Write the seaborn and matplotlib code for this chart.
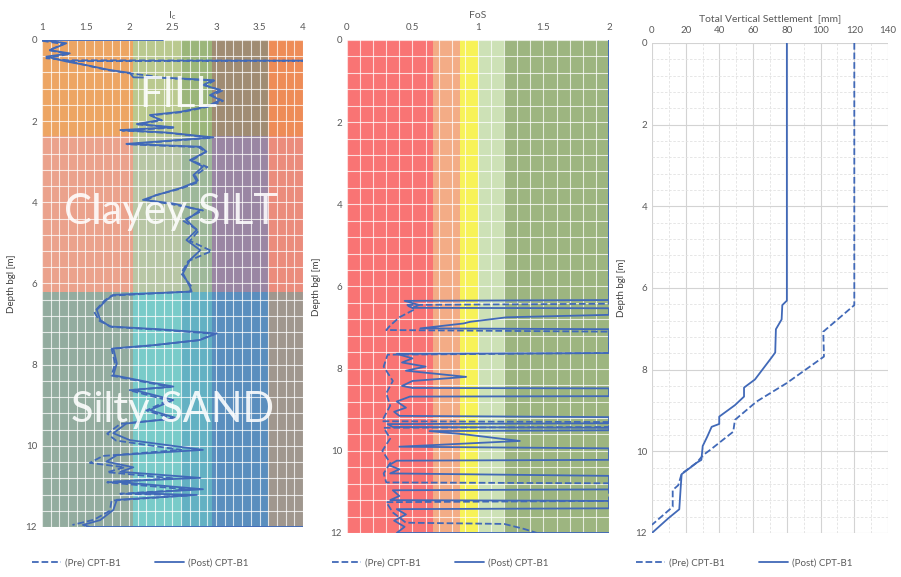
#---------------------------- pacotes ------------------------------------
import matplotlib
matplotlib.use('Agg')
import matplotlib.pyplot as plt
import seaborn as sns
from matplotlib.ticker import MultipleLocator, FormatStrFormatter
from matplotlib.lines import Line2D

sns.set_style('white')
plt.rcParams['font.family'] = ['Lato', 'DejaVu Sans']

#---------------------------- dados: Ic -----------------------------------
ic_prof_post = [0, 0, 0.08, 0.25, 0.33, 0.41, 0.53, 0.62, 0.74, 0.81, 0.92, 0.94, 0.99, 1.11, 1.23,
                1.36, 1.48, 1.64, 1.77, 1.85, 1.97, 2.07, 2.15, 2.22, 2.28, 2.40, 2.56, 2.63, 2.75,
                2.96, 3.12, 3.33, 3.49, 3.65, 3.82, 3.94, 4.03, 4.19, 4.44, 4.68, 4.93, 5.18, 5.42,
                5.75, 6.08, 6.20, 6.28, 6.41, 6.65, 6.90, 7.06, 7.13, 7.23, 7.39, 7.52, 7.60, 7.97,
                8.26, 8.42, 8.54, 8.62, 8.87, 9.12, 9.32, 9.45, 9.69, 9.86, 10.10, 10.23, 10.39,
                10.53, 10.64, 10.79, 10.88, 11.07, 11.17, 11.21, 11.33, 11.58, 11.83, 11.95, 12.0, 12.0]
ic_post = [2.39, 1.01, 1.28, 1.09, 1.32, 1.05, 1.28, 1.51, 1.78, 2.01, 2.05, 2.51, 2.97, 2.85, 3.05,
           2.93, 3.05, 2.89, 2.59, 2.24, 2.36, 2.09, 2.51, 1.90, 2.43, 2.97, 1.97, 2.82, 2.89,
           2.70, 2.85, 2.74, 2.78, 2.59, 2.32, 2.16, 2.51, 2.82, 2.66, 2.78, 2.66, 2.82, 2.70,
           2.62, 2.70, 2.72, 1.82, 1.74, 1.63, 1.67, 1.78, 2.36, 3.01, 2.82, 2.28, 1.82, 1.86,
           1.82, 2.20, 2.51, 2.05, 2.51, 2.24, 2.55, 1.97, 1.82, 2.01, 2.85, 1.86, 1.74,
           2.05, 1.90, 2.82, 1.82, 2.85, 2.05, 2.78, 1.86, 1.82, 1.67, 1.47, 1.55, 4.0]

ic_prof_pre = [0.02, 0.10, 0.25, 0.35, 0.45, 0.50, 0.51, 0.52, 0.62, 0.74, 0.82, 0.95, 1.00, 1.12, 1.25,
               1.37, 1.50, 1.65, 1.78, 1.86, 1.98, 2.08, 2.16, 2.23, 2.29, 2.41, 2.57, 2.64, 2.76,
               2.97, 3.13, 3.34, 3.50, 3.66, 3.83, 3.95, 4.05, 4.20, 4.45, 4.70, 4.95, 5.20, 5.45,
               5.75, 6.08, 6.20, 6.30, 6.42, 6.70, 6.92, 7.07, 7.14, 7.24, 7.40, 7.53, 7.61, 7.97,
               8.27, 8.43, 8.55, 8.63, 8.88, 9.13, 9.33, 9.46, 9.70, 9.87, 10.10, 10.25, 10.42,
               10.53, 10.65, 10.80, 10.90, 11.08, 11.18, 11.22, 11.35, 11.60, 11.82, 11.95]
ic_pre = [1.00, 1.25, 1.08, 1.30, 1.05, 1.30, 4.00, 1.30, 1.50, 1.75, 2.00, 2.50, 2.98, 2.88, 3.07,
          2.95, 3.08, 2.90, 2.60, 2.25, 2.38, 2.10, 2.52, 1.92, 2.45, 2.95, 1.98, 2.80, 2.88,
          2.72, 2.90, 2.76, 2.80, 2.60, 2.30, 2.20, 2.50, 2.85, 2.62, 2.80, 2.70, 2.95, 2.68,
          2.60, 2.72, 2.70, 1.80, 1.72, 1.60, 1.66, 1.80, 2.35, 2.98, 2.80, 2.25, 1.80, 1.84,
          1.80, 2.18, 2.48, 2.00, 2.45, 2.20, 2.50, 1.90, 1.75, 1.85, 2.60, 1.70, 1.55,
          1.95, 1.75, 2.50, 1.75, 2.70, 1.90, 2.70, 1.80, 1.78, 1.60, 1.35]

#---------------------------- dados: FoS ----------------------------------
fos_prof_post = [0, 6.33, 6.35, 6.45, 6.52, 6.53, 6.69, 6.75, 6.86, 6.90, 7.02, 7.04, 7.62, 7.64, 7.75,
                 7.85, 7.95, 8.05, 8.20, 8.30, 8.42, 8.47, 8.48, 8.67, 8.68, 8.80, 8.95, 9.05, 9.15,
                 9.18, 9.33, 9.35, 9.42, 9.44, 9.50, 9.52, 9.60, 9.76, 9.90, 9.94, 10.22, 10.24,
                 10.35, 10.45, 10.55, 10.61, 10.94, 10.96, 11.10, 11.20, 11.22, 11.40, 11.42,
                 11.55, 11.70, 11.85, 12.0, 12.0]
fos_post = [2, 2, 0.44, 0.55, 0.50, 2, 2, 1.22, 0.94, 0.89, 0.56, 2, 2, 0.38, 0.50,
            0.42, 0.60, 0.45, 0.91, 0.50, 0.42, 0.50, 2, 2, 0.48, 0.38, 0.45, 0.36, 0.40,
            2, 2, 0.31, 0.35, 2, 2, 0.63, 0.90, 1.32, 0.40, 2, 2, 0.38,
            0.32, 0.40, 0.33, 2, 2, 0.35, 0.40, 0.33, 2, 2, 0.38,
            0.45, 0.36, 0.44, 0.38, 2]

fos_prof_pre = [0, 6.42, 6.45, 6.55, 6.75, 6.95, 7.06, 7.10, 7.62, 7.66, 7.95, 8.30, 8.60, 8.90,
                9.20, 9.28, 9.30, 9.42, 9.44, 9.70, 10.0, 10.30, 10.55, 10.77, 10.79, 11.22,
                11.25, 11.50, 11.75, 11.78, 11.90, 12.0]
fos_pre = [2, 2, 0.45, 0.52, 0.40, 0.33, 0.30, 2, 2, 0.31, 0.28, 0.35, 0.30, 0.33,
           0.28, 0.27, 2, 2, 0.28, 0.33, 0.27, 0.33, 0.28, 0.30, 2, 2,
           0.30, 0.35, 0.45, 1.20, 1.35, 1.45]

#---------------------------- dados: recalque ------------------------------
rec_prof_post = [0, 6.31, 6.42, 6.77, 7.01, 7.58, 7.70, 8.24, 8.44, 8.66, 8.87, 9.15, 9.33, 9.40,
                 9.64, 9.87, 10.21, 10.28, 10.56, 10.91, 11.42, 11.64, 12.0]
rec_post = [80, 80, 77.3, 76.9, 73.5, 73.1, 71, 61.1, 54.6, 54.6, 49.2, 39.9, 39.9, 35.4,
            32.8, 30.1, 29.3, 26.5, 17.6, 17, 16.2, 9.7, 0]
rec_prof_pre = [0, 6.42, 7.07, 7.68, 8.33, 8.78, 9.23, 9.52, 9.97, 10.09, 10.28, 10.55, 10.83,
                10.95, 11.36, 11.80]
rec_pre = [120, 120, 101.6, 102, 79.9, 62.1, 49.2, 48.2, 34.4, 30.4, 26.5, 17.6, 15.6,
           12.3, 12.3, 0]

#---------------------------- zonas de fundo -------------------------------
limites_ic = [1, 2.05, 2.6, 2.95, 3.6, 4]
limites_camada = [0, 2.37, 6.2, 12]
cores_ic = [['#EDA563', '#BAC98F', '#9BB67A', '#A08C73', '#EE8C57'],
            ['#EBA28C', '#B8C6A5', '#9EB89A', '#9A86A3', '#EB8C7C'],
            ['#93AC9F', '#79CBC9', '#63B1C3', '#5A8EBE', '#A0978E']]
camadas = ['FILL', 'Clayey SILT', 'Silty SAND']
camada_x = [2.57, 2.48, 2.5]
camada_y = [1.36, 4.24, 9.12]

limites_fos = [0, 0.66, 0.86, 1.0, 1.2, 2.0]
cores_fos = ['#F97474', '#F3AC86', '#F7F258', '#CDE1B6', '#9DB580']

azul = '#4169B8'
cinza = '#595959'

#---------------------------- figura ---------------------------------------
fig = plt.figure(figsize=(9.01, 5.77), dpi=100)
ax1 = fig.add_axes([0.0466, 0.0867, 0.2897, 0.8440])
ax2 = fig.add_axes([0.3851, 0.0763, 0.2908, 0.8544])
ax3 = fig.add_axes([0.7236, 0.0763, 0.2620, 0.8492])


def formata_eixo(ax, xlim, xmaior, xmenor, titulo):
    ax.set_xlim(*xlim)
    ax.set_ylim(12, 0)
    ax.xaxis.tick_top()
    ax.xaxis.set_label_position('top')
    ax.xaxis.set_major_locator(MultipleLocator(xmaior))
    ax.xaxis.set_minor_locator(MultipleLocator(xmenor))
    ax.xaxis.set_major_formatter(FormatStrFormatter('%g'))
    ax.yaxis.set_major_locator(MultipleLocator(2))
    ax.yaxis.set_minor_locator(MultipleLocator(0.4))
    ax.tick_params(which='both', length=0, labelsize=7, colors=cinza)
    ax.tick_params(axis='x', pad=6)
    ax.set_xlabel(titulo, fontsize=7.5, color=cinza, labelpad=3)
    ax.set_ylabel('Depth bgl [m]', fontsize=7, color='#404040', labelpad=7)
    for s in ax.spines.values():
        s.set_visible(False)
    ax.set_axisbelow(True)


def desenha_linhas(ax, x_pre, y_pre, x_post, y_post, pos_legenda):
    sns.lineplot(x=x_pre, y=y_pre, sort=False, estimator=None, ax=ax, color=azul,
                 linestyle='--', lw=1.3, legend=False)
    sns.lineplot(x=x_post, y=y_post, sort=False, estimator=None, ax=ax, color=azul,
                 lw=1.3, legend=False)
    alcas = [Line2D([], [], color=azul, lw=1.3, ls='--'), Line2D([], [], color=azul, lw=1.3)]
    ax.legend(alcas, ['(Pre) CPT-B1', '(Post) CPT-B1'], loc='center', bbox_to_anchor=pos_legenda,
              ncol=2, frameon=False, fontsize=7, handlelength=3, columnspacing=3.5,
              handletextpad=0.4, labelcolor=cinza)


# painel 1 - Ic
for i in range(len(camadas)):
    for j in range(len(limites_ic) - 1):
        ax1.fill_between([limites_ic[j], limites_ic[j + 1]], limites_camada[i], limites_camada[i + 1],
                         color=cores_ic[i][j], lw=0, zorder=0.1)
formata_eixo(ax1, (1, 4), 0.5, 0.1, r'I$_\mathregular{c}$')
ax1.grid(which='both', color='white', lw=0.8, alpha=0.75)
for nome, tx, ty in zip(camadas, camada_x, camada_y):
    ax1.text(tx, ty, nome, ha='center', va='center', fontsize=30, color='white', alpha=0.88, zorder=3)
desenha_linhas(ax1, ic_pre, ic_prof_pre, ic_post, ic_prof_post, (0.375, -0.074))

# painel 2 - FoS
for j in range(len(cores_fos)):
    ax2.fill_between([limites_fos[j], limites_fos[j + 1]], 0, 12, color=cores_fos[j], lw=0, zorder=0.1)
formata_eixo(ax2, (0, 2), 0.5, 0.1, 'FoS')
ax2.grid(which='both', color='white', lw=0.8, alpha=0.75)
desenha_linhas(ax2, fos_pre, fos_prof_pre, fos_post, fos_prof_post, (0.355, -0.061))

# painel 3 - recalque
formata_eixo(ax3, (0, 140), 20, 10, 'Total Vertical Settlement  [mm]')
ax3.grid(which='major', color='#D3D3D3', lw=0.8)
ax3.grid(which='minor', color='#E2E2E2', lw=0.6, ls=(0, (3, 2)))
desenha_linhas(ax3, rec_pre, rec_prof_pre, rec_post, rec_prof_post, (0.39, -0.061))

plt.savefig('out.png', dpi=100)
